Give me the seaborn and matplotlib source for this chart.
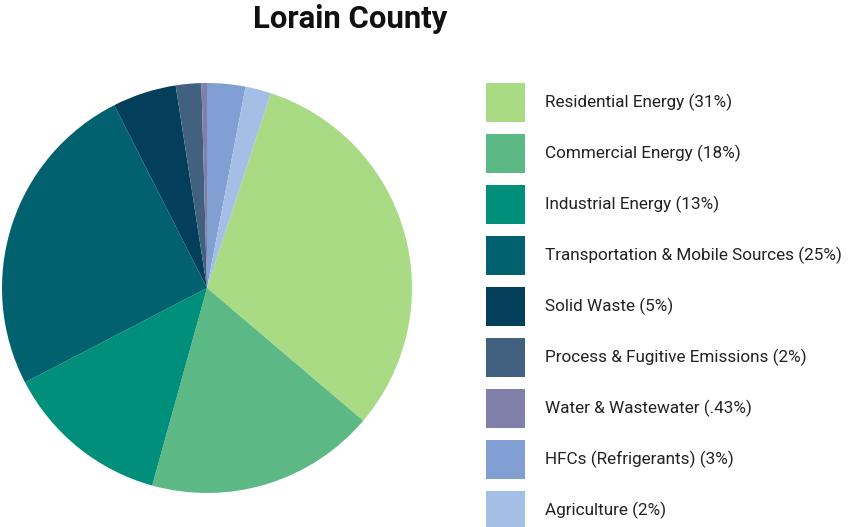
import matplotlib
matplotlib.use("Agg")
import matplotlib.pyplot as plt
import seaborn as sns

categories = [
    "Residential Energy (31%)",
    "Commercial Energy (18%)",
    "Industrial Energy (13%)",
    "Transportation & Mobile Sources (25%)",
    "Solid Waste (5%)",
    "Process & Fugitive Emissions (2%)",
    "Water & Wastewater (.43%)",
    "HFCs (Refrigerants) (3%)",
    "Agriculture (2%)",
]
values = [31, 18, 13, 25, 5, 2, 0.43, 3, 2]
colors = ["#a9da84", "#5cb985", "#008f7a", "#02616f", "#033f5a",
          "#42607f", "#8180aa", "#819fd2", "#a3bfe5"]
title = "Lorain County"

sns.set_theme(style="white")
plt.rcParams["font.family"] = ["Roboto", "DejaVu Sans"]

W, H = 848, 527
fig = plt.figure(figsize=(W / 100, H / 100), dpi=100)
fig.patch.set_facecolor("white")

# pie axes: centre (207, 288) px, radius 205 px
cx, cy, r = 207, 288, 205
ax = fig.add_axes([(cx - r) / W, (H - cy - r) / H, 2 * r / W, 2 * r / H])
total = sum(values)
start = 90 - 360 * (values[-1] + values[-2]) / total
wedges, _ = ax.pie(values, colors=colors, startangle=start, counterclock=False,
                   radius=1, wedgeprops=dict(linewidth=0))
ax.set_xlim(-1, 1)
ax.set_ylim(-1, 1)
ax.set_aspect("equal")
ax.axis("off")

fig.text(350 / W, 1 - 19 / H, title, ha="center", va="center",
         fontsize=22.4, fontweight="bold", color="#111111")

fs = 12.3
fpx = fs / 72 * 100
hh = (39 / fpx - 0.245) / 0.65
leg = fig.legend(wedges, categories, loc="upper left",
                 bbox_to_anchor=(486 / W, 1 - 83 / H), frameon=False,
                 fontsize=fs, handlelength=39 / fpx, handleheight=hh,
                 labelspacing=12 / fpx, handletextpad=20 / fpx, borderpad=0,
                 borderaxespad=0)
for t in leg.get_texts():
    t.set_color("#222222")

fig.savefig("out.png", dpi=100)
